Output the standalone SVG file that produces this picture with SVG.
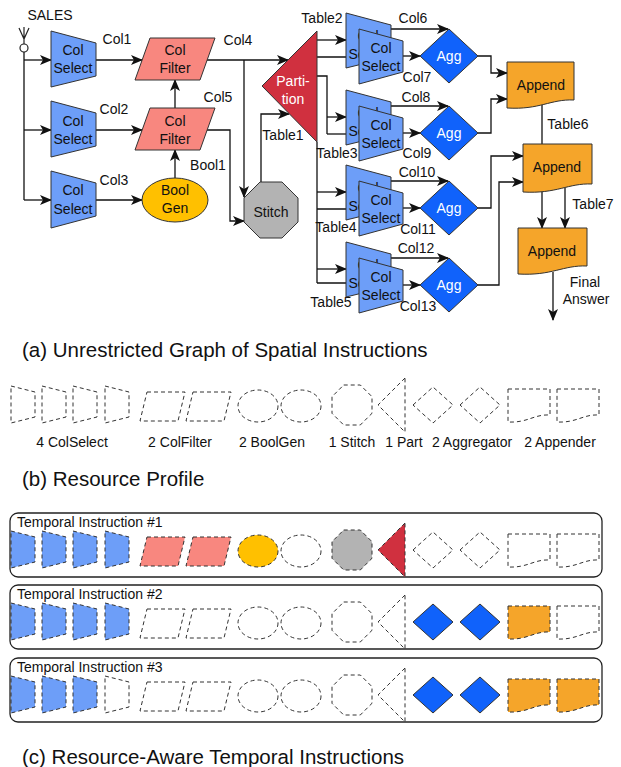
<svg xmlns="http://www.w3.org/2000/svg" width="621" height="767" viewBox="0 0 621 767">
<style>
text{font-family:"Liberation Sans",Arial,Helvetica,sans-serif;font-size:14px;fill:#111}
.c{text-anchor:middle}
.w{fill:#fff}
.cap{font-size:20.5px}
.node{stroke:#333;stroke-width:1}
.cs{fill:#6D9EF8}
.cf{fill:#F8877F}
.bg{fill:#FFC000}
.st{fill:#B3B3B3}
.pt{fill:#D0303F}
.ag{fill:#1062FB}
.ap{fill:#F5A52A}
.e{fill:none}
.d{stroke:#333;stroke-width:1;stroke-dasharray:4 3}
.ln{fill:none;stroke:#111;stroke-width:1.3}
.ar{marker-end:url(#arr)}
.box{fill:none;stroke:#222;stroke-width:1.3}
</style>
<defs>
<marker id="arr" markerUnits="userSpaceOnUse" markerWidth="12" markerHeight="10" viewBox="0 0 12 10" refX="11" refY="5" orient="auto"><path d="M0,0 L12,5 L0,10 L3,5 Z" fill="#111"/></marker>
<polygon id="pcs" points="0,0 24,6 24,31 0,37"/>
<polygon id="pcf" points="7,0 45,0 38,29 0,29"/>
<ellipse id="pbg" cx="0" cy="0" rx="20" ry="16"/>
<polygon id="pst" points="-8.3,-20 8.3,-20 20,-8.3 20,8.3 8.3,20 -8.3,20 -20,8.3 -20,-8.3"/>
<polygon id="ppt" points="27,0 0,27 27,54"/>
<polygon id="pag" points="-20,0 0,-18 20,0 0,18"/>
<path id="pap" d="M0,0 H42 V26 C26,25 20,34 0,33 Z"/>
</defs>

<!-- (a) spatial graph -->
<g id="input">
<circle cx="24" cy="48" r="4" fill="#fff" stroke="#222" stroke-width="1.2"/>
<path d="M24,27 V44 M19,28 L24,39 L29,28" fill="none" stroke="#222" stroke-width="1.2"/>
<text x="50" y="20" class="c">SALES</text>
</g>

<g id="connectors">
<path class="ln" d="M24,52 V200"/>
<path class="ln ar" d="M24,60 H51"/>
<path class="ln ar" d="M24,130 H51"/>
<path class="ln ar" d="M24,200 H51"/>
<path class="ln ar" d="M96,60 H142"/>
<path class="ln ar" d="M96,130 H142"/>
<path class="ln ar" d="M96,200 H142"/>
<path class="ln ar" d="M175,178 V150"/>
<path class="ln ar" d="M175,108 V80"/>
<path class="ln ar" d="M207,60 H288"/>
<path class="ln ar" d="M244,60 V197"/>
<path class="ln ar" d="M207,130 H230 V221 H244"/>
<path class="ln ar" d="M261,182 V114 H289"/>
<path class="ln" d="M317,142 V283" stroke-width="1.8"/>
<path class="ln ar" d="M317,40 H346"/>
<path class="ln ar" d="M317,57 H359"/>
<path class="ln" d="M317,76 H327 V134"/>
<path class="ln ar" d="M327,117 H346"/>
<path class="ln ar" d="M327,134 H359"/>
<path class="ln ar" d="M317,192 H346"/>
<path class="ln ar" d="M317,209 H359"/>
<path class="ln ar" d="M317,269 H346"/>
<path class="ln ar" d="M317,283 H359"/>
<path class="ln ar" d="M391,29 H448"/>
<path class="ln ar" d="M403,56 H420"/>
<path class="ln ar" d="M391,106 H448"/>
<path class="ln ar" d="M403,133 H420"/>
<path class="ln ar" d="M391,181 H448"/>
<path class="ln ar" d="M403,208 H420"/>
<path class="ln ar" d="M391,258 H448"/>
<path class="ln ar" d="M403,285 H420"/>
<path class="ln ar" d="M478,56 H491 V73 H507"/>
<path class="ln ar" d="M478,133 H491 V99 H507"/>
<path class="ln ar" d="M478,208 H491 V156 H523"/>
<path class="ln ar" d="M478,285 H499 V182 H523"/>
<path class="ln" d="M542,105 V144"/>
<path class="ln ar" d="M542,190 V228"/>
<path class="ln ar" d="M565,188 V228"/>
<path class="ln ar" d="M553,272 V320"/>
</g>

<g id="edge-labels">
<text x="117" y="44" class="c">Col1</text>
<text x="114" y="114" class="c">Col2</text>
<text x="114" y="185" class="c">Col3</text>
<text x="238" y="45" class="c">Col4</text>
<text x="218" y="102" class="c">Col5</text>
<text x="208" y="170" class="c">Bool1</text>
<text x="283" y="140" class="c">Table1</text>
<text x="322" y="23" class="c">Table2</text>
<text x="337" y="158" class="c">Table3</text>
<text x="336" y="232" class="c">Table4</text>
<text x="331" y="307" class="c">Table5</text>
<text x="413" y="23" class="c">Col6</text>
<text x="417" y="82" class="c">Col7</text>
<text x="416" y="102" class="c">Col8</text>
<text x="417" y="158" class="c">Col9</text>
<text x="417" y="177" class="c">Col10</text>
<text x="418" y="234" class="c">Col11</text>
<text x="416" y="253" class="c">Col12</text>
<text x="418" y="311" class="c">Col13</text>
<text x="568" y="129" class="c">Table6</text>
<text x="593" y="209" class="c">Table7</text>
<text x="585" y="287" class="c">Final</text>
<text x="586" y="304" class="c">Answer</text>
</g>

<g id="colselect1"><polygon class="node cs" points="51,31 96,43 96,76 51,87"/><text x="73" y="55" class="c">Col</text><text x="73" y="73" class="c">Select</text></g>
<g id="colselect2"><polygon class="node cs" points="51,101 96,113 96,146 51,157"/><text x="73" y="126" class="c">Col</text><text x="73" y="144" class="c">Select</text></g>
<g id="colselect3"><polygon class="node cs" points="51,171 96,183 96,216 51,228"/><text x="73" y="195" class="c">Col</text><text x="73" y="214" class="c">Select</text></g>
<g id="colfilter1"><polygon class="node cf" points="150,38 215,38 200,80 135,80"/><text x="175" y="55" class="c">Col</text><text x="175" y="73" class="c">Filter</text></g>
<g id="colfilter2"><polygon class="node cf" points="150,108 215,108 200,150 135,150"/><text x="175" y="126" class="c">Col</text><text x="175" y="144" class="c">Filter</text></g>
<g id="boolgen"><ellipse class="node bg" cx="175" cy="200" rx="33" ry="22"/><text x="175" y="195" class="c">Bool</text><text x="175" y="213" class="c">Gen</text></g>
<g id="stitch"><polygon class="node st" points="260,182 282,182 298,198 298,222 282,238 260,238 244,222 244,198"/><text x="271" y="217" class="c">Stitch</text></g>
<g id="partition"><polygon class="node pt" points="317,31 317,142 262,86"/><text x="293" y="86" class="c w">Parti-</text><text x="293" y="104" class="c w">tion</text></g>

<g id="group1">
<g id="colselect4"><polygon class="node cs" points="346,13 391,25 391,57 346,68"/><text x="368" y="41" class="c">Col</text><text x="368" y="59" class="c">Select</text></g>
<g id="colselect5"><polygon class="node cs" points="359,29 403,41 403,72 359,84"/><text x="381" y="53" class="c">Col</text><text x="381" y="71" class="c">Select</text></g>
<g id="agg1"><polygon class="node ag" points="420,56 449,29 478,56 449,83"/><text x="449" y="61" class="c w">Agg</text></g>
</g>
<g id="group2" transform="translate(0,77)">
<g id="colselect6"><polygon class="node cs" points="346,13 391,25 391,57 346,68"/><text x="368" y="41" class="c">Col</text><text x="368" y="59" class="c">Select</text></g>
<g id="colselect7"><polygon class="node cs" points="359,29 403,41 403,72 359,84"/><text x="381" y="53" class="c">Col</text><text x="381" y="71" class="c">Select</text></g>
<g id="agg2"><polygon class="node ag" points="420,56 449,29 478,56 449,83"/><text x="449" y="61" class="c w">Agg</text></g>
</g>
<g id="group3" transform="translate(0,152)">
<g id="colselect8"><polygon class="node cs" points="346,13 391,25 391,57 346,68"/><text x="368" y="41" class="c">Col</text><text x="368" y="59" class="c">Select</text></g>
<g id="colselect9"><polygon class="node cs" points="359,29 403,41 403,72 359,84"/><text x="381" y="53" class="c">Col</text><text x="381" y="71" class="c">Select</text></g>
<g id="agg3"><polygon class="node ag" points="420,56 449,29 478,56 449,83"/><text x="449" y="61" class="c w">Agg</text></g>
</g>
<g id="group4" transform="translate(0,229)">
<g id="colselect10"><polygon class="node cs" points="346,13 391,25 391,57 346,68"/><text x="368" y="41" class="c">Col</text><text x="368" y="59" class="c">Select</text></g>
<g id="colselect11"><polygon class="node cs" points="359,29 403,41 403,72 359,84"/><text x="381" y="53" class="c">Col</text><text x="381" y="71" class="c">Select</text></g>
<g id="agg4"><polygon class="node ag" points="420,56 449,29 478,56 449,83"/><text x="449" y="61" class="c w">Agg</text></g>
</g>

<g id="append1"><path class="node ap" d="M507,62 H574 V100 C550,99 540,110 507,108 Z"/><text x="541" y="90" class="c">Append</text></g>
<g id="append2"><path class="node ap" d="M523,144 H592 V184 C568,183 557,194 523,192 Z"/><text x="557" y="172" class="c">Append</text></g>
<g id="append3"><path class="node ap" d="M518,228 H587 V266 C563,265 552,276 518,274 Z"/><text x="552" y="256" class="c">Append</text></g>

<text x="22" y="357" class="cap">(a) Unrestricted Graph of Spatial Instructions</text>

<!-- (b) resource profile -->
<g id="profile">
<use href="#pcs" class="e d" transform="translate(11,386)"/>
<use href="#pcs" class="e d" transform="translate(42,386)"/>
<use href="#pcs" class="e d" transform="translate(73,386)"/>
<use href="#pcs" class="e d" transform="translate(105,386)"/>
<use href="#pcf" class="e d" transform="translate(140,392)"/>
<use href="#pcf" class="e d" transform="translate(186,392)"/>
<use href="#pbg" class="e d" transform="translate(258,406)"/>
<use href="#pbg" class="e d" transform="translate(301,406)"/>
<use href="#pst" class="e d" transform="translate(352,405)"/>
<use href="#ppt" class="e d" transform="translate(378,378)"/>
<use href="#pag" class="e d" transform="translate(433,405)"/>
<use href="#pag" class="e d" transform="translate(480,405)"/>
<use href="#pap" class="e d" transform="translate(508,389)"/>
<use href="#pap" class="e d" transform="translate(557,389)"/>
<text x="72" y="447" class="c">4 ColSelect</text>
<text x="180" y="447" class="c">2 ColFilter</text>
<text x="272" y="447" class="c">2 BoolGen</text>
<text x="352" y="447" class="c">1 Stitch</text>
<text x="404" y="447" class="c">1 Part</text>
<text x="472" y="447" class="c">2 Aggregator</text>
<text x="560" y="447" class="c">2 Appender</text>
</g>
<text x="22" y="486" class="cap">(b) Resource Profile</text>

<!-- (c) temporal instructions -->
<g id="temporal1">
<rect class="box" x="10" y="513" width="592" height="64" rx="8"/>
<text x="17" y="527">Temporal Instruction #1</text>
<g transform="translate(0,145)">
<use href="#pcs" class="cs d" transform="translate(11,386)"/>
<use href="#pcs" class="cs d" transform="translate(42,386)"/>
<use href="#pcs" class="cs d" transform="translate(73,386)"/>
<use href="#pcs" class="cs d" transform="translate(105,386)"/>
<use href="#pcf" class="cf d" transform="translate(140,392)"/>
<use href="#pcf" class="cf d" transform="translate(186,392)"/>
<use href="#pbg" class="bg d" transform="translate(258,406)"/>
<use href="#pbg" class="e d" transform="translate(301,406)"/>
<use href="#pst" class="st d" transform="translate(352,405)"/>
<use href="#ppt" class="pt d" transform="translate(378,378)"/>
<use href="#pag" class="e d" transform="translate(433,405)"/>
<use href="#pag" class="e d" transform="translate(480,405)"/>
<use href="#pap" class="e d" transform="translate(508,389)"/>
<use href="#pap" class="e d" transform="translate(557,389)"/>
</g>
</g>
<g id="temporal2">
<rect class="box" x="10" y="585" width="592" height="64" rx="8"/>
<text x="17" y="599">Temporal Instruction #2</text>
<g transform="translate(0,217)">
<use href="#pcs" class="cs d" transform="translate(11,386)"/>
<use href="#pcs" class="cs d" transform="translate(42,386)"/>
<use href="#pcs" class="cs d" transform="translate(73,386)"/>
<use href="#pcs" class="cs d" transform="translate(105,386)"/>
<use href="#pcf" class="e d" transform="translate(140,392)"/>
<use href="#pcf" class="e d" transform="translate(186,392)"/>
<use href="#pbg" class="e d" transform="translate(258,406)"/>
<use href="#pbg" class="e d" transform="translate(301,406)"/>
<use href="#pst" class="e d" transform="translate(352,405)"/>
<use href="#ppt" class="e d" transform="translate(378,378)"/>
<use href="#pag" class="ag node" transform="translate(433,405)"/>
<use href="#pag" class="ag node" transform="translate(480,405)"/>
<use href="#pap" class="ap d" transform="translate(508,389)"/>
<use href="#pap" class="e d" transform="translate(557,389)"/>
</g>
</g>
<g id="temporal3">
<rect class="box" x="10" y="658" width="592" height="64" rx="8"/>
<text x="17" y="672">Temporal Instruction #3</text>
<g transform="translate(0,290)">
<use href="#pcs" class="cs d" transform="translate(11,386)"/>
<use href="#pcs" class="cs d" transform="translate(42,386)"/>
<use href="#pcs" class="cs d" transform="translate(73,386)"/>
<use href="#pcs" class="e d" transform="translate(105,386)"/>
<use href="#pcf" class="e d" transform="translate(140,392)"/>
<use href="#pcf" class="e d" transform="translate(186,392)"/>
<use href="#pbg" class="e d" transform="translate(258,406)"/>
<use href="#pbg" class="e d" transform="translate(301,406)"/>
<use href="#pst" class="e d" transform="translate(352,405)"/>
<use href="#ppt" class="e d" transform="translate(378,378)"/>
<use href="#pag" class="ag node" transform="translate(433,405)"/>
<use href="#pag" class="ag node" transform="translate(480,405)"/>
<use href="#pap" class="ap d" transform="translate(508,389)"/>
<use href="#pap" class="ap d" transform="translate(557,389)"/>
</g>
</g>
<text x="22" y="764" class="cap">(c) Resource-Aware Temporal Instructions</text>
</svg>
